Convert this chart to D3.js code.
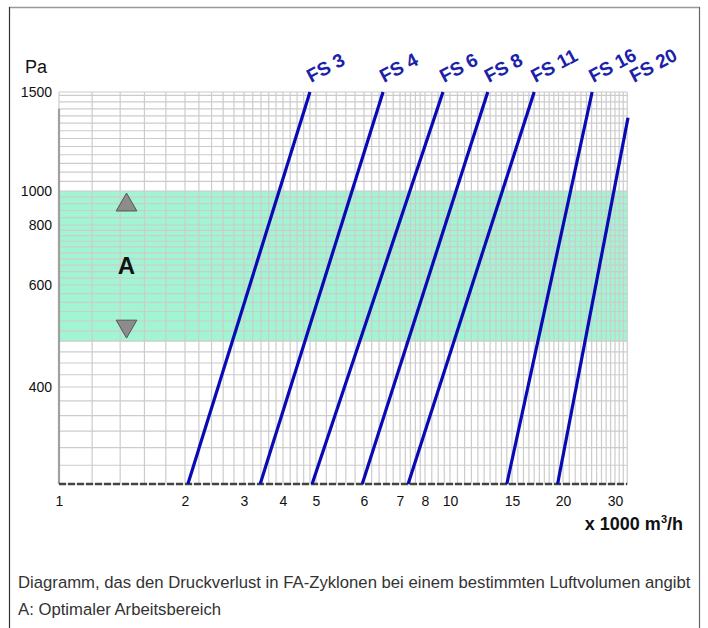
<!DOCTYPE html>
<html>
<head>
<meta charset="utf-8">
<script src="https://cdn.jsdelivr.net/npm/d3@7"></script>
<style>
body { margin: 0; background: #fff; }
text { font-family: "Liberation Sans", Arial, sans-serif; }
</style>
</head>
<body>
<script>
// data
var flowTicks = [1, 2, 3, 4, 5, 6, 7, 8, 10, 15, 20, 30];      // x 1000 m3/h
var pressureTicks = [400, 600, 800, 1000, 1500];                // Pa
var cyclones = ['FS 3', 'FS 4', 'FS 6', 'FS 8', 'FS 11', 'FS 16', 'FS 20'];
var flowStart = [2.04, 3.38, 4.87, 5.96, 7.31, 14.5, 19.4];
var flowEnd = [4.80, 6.51, 9.39, 12.8, 17.0, 25.1, 33.2];
var pressureEnd = [1500, 1500, 1500, 1500, 1500, 1500, 1350];
var pressureStart = 280;
var bandA = [480, 1000];
var flowMin = 1, flowMax = 33;
var pressureMin = 280, pressureMax = 1500;

var w = 708, h = 628;

// the printed axes are not evenly logarithmic, so the scales are piecewise (log within each step)
var flowDomain = flowTicks;
var flowRange = [59, 185, 244, 283, 316, 364, 400, 425, 450, 512, 563, 615];
var pressureDomain = [280, 400, 600, 800, 1000, 1500];
var pressureRange = [484, 387, 285, 225, 191, 92];

var xs = d3.scaleLinear().domain(flowDomain.map(Math.log10)).range(flowRange);
var ys = d3.scaleLinear().domain(pressureDomain.map(Math.log10)).range(pressureRange);
function x(v) { return xs(Math.log10(v)); }
function y(v) { return ys(Math.log10(v)); }

var plotLeft = x(flowMin), plotRight = x(flowMax);
var plotTop = y(pressureMax), plotBottom = y(pressureMin);

var svg = d3.select('body')
	.append('svg')
	.attr('width', w)
	.attr('height', h);

svg.append('rect').attr('width', w).attr('height', h).attr('fill', '#fff');

// frame
svg.append('line').attr('x1', 9).attr('x2', 700).attr('y1', 7.5).attr('y2', 7.5)
	.attr('stroke', '#999').attr('stroke-width', 1.5);
svg.append('line').attr('x1', 9.5).attr('x2', 9.5).attr('y1', 7).attr('y2', h)
	.attr('stroke', '#333').attr('stroke-width', 1.2);
svg.append('line').attr('x1', 699.5).attr('x2', 699.5).attr('y1', 7).attr('y2', h)
	.attr('stroke', '#666').attr('stroke-width', 1.2);

// optimal working range
svg.append('rect')
	.attr('x', plotLeft).attr('width', plotRight - plotLeft)
	.attr('y', y(bandA[1])).attr('height', y(bandA[0]) - y(bandA[1]))
	.attr('fill', '#a2f5d3');

// grid
var gridX = d3.range(1, 8, 0.2)
	.concat(d3.range(8, 20, 0.5))
	.concat(d3.range(20, 34, 1));
var gridY = d3.range(280, 800, 20)
	.concat(d3.range(800, 1000, 40))
	.concat(d3.range(1000, 1501, 40))
	.concat([1500]);

svg.append('g').selectAll('line')
	.data(gridX)
	.enter()
	.append('line')
	.attr('x1', function(d) { return x(d); })
	.attr('x2', function(d) { return x(d); })
	.attr('y1', plotTop)
	.attr('y2', plotBottom)
	.attr('stroke', '#cccccc')
	.attr('stroke-width', 1.2);

svg.append('g').selectAll('line')
	.data(gridY)
	.enter()
	.append('line')
	.attr('x1', plotLeft)
	.attr('x2', plotRight)
	.attr('y1', function(d) { return y(d); })
	.attr('y2', function(d) { return y(d); })
	.attr('stroke', '#cccccc')
	.attr('stroke-width', 1.2);

// axes lines
svg.append('line').attr('x1', plotLeft).attr('x2', plotLeft).attr('y1', y(1400)).attr('y2', plotBottom)
	.attr('stroke', '#a0a0a0').attr('stroke-width', 2.2);
svg.append('line').attr('x1', plotLeft).attr('x2', plotRight).attr('y1', plotBottom).attr('y2', plotBottom)
	.attr('stroke', '#444').attr('stroke-width', 2.4).attr('stroke-dasharray', '7,2');

// tick labels
var yAxis = d3.axisLeft(ys)
	.tickValues(pressureTicks.map(Math.log10))
	.tickFormat(function(d) { return Math.round(Math.pow(10, d)); })
	.tickSize(0)
	.tickPadding(7);
var gy = svg.append('g').attr('transform', 'translate(' + plotLeft + ',0)').call(yAxis);
gy.select('.domain').remove();
gy.selectAll('text').attr('font-size', 14).attr('fill', '#111')
	.style('font-family', '"Liberation Sans", Arial, sans-serif');

var xAxis = d3.axisBottom(xs)
	.tickValues(flowTicks.map(Math.log10))
	.tickFormat(function(d) { return Math.round(Math.pow(10, d)); })
	.tickSize(0)
	.tickPadding(12);
var gx = svg.append('g').attr('transform', 'translate(0,' + plotBottom + ')').call(xAxis);
gx.select('.domain').remove();
gx.selectAll('text').attr('font-size', 14).attr('fill', '#111')
	.style('font-family', '"Liberation Sans", Arial, sans-serif');

svg.append('text').attr('x', 25).attr('y', 73).attr('font-size', 18).attr('fill', '#111').text('Pa');

var xt = svg.append('text').attr('x', 683).attr('y', 530).attr('text-anchor', 'end')
	.attr('font-size', 18).attr('font-weight', 'bold').attr('fill', '#111');
xt.append('tspan').text('x 1000 m');
xt.append('tspan').attr('font-size', 11).attr('dy', -7).text('3');
xt.append('tspan').attr('dy', 7).text('/h');

// A marker
var ax = x(1.45);
var bandTop = y(bandA[1]), bandBot = y(bandA[0]);
var tri = d3.symbol().type(d3.symbolTriangle).size(185);
svg.append('path').attr('d', tri)
	.attr('transform', 'translate(' + ax + ',' + (bandTop + 14) + ')')
	.attr('fill', '#8c8c8c').attr('stroke', '#555').attr('stroke-width', 1);
svg.append('path').attr('d', tri)
	.attr('transform', 'translate(' + ax + ',' + (bandBot - 15) + ') rotate(180)')
	.attr('fill', '#8c8c8c').attr('stroke', '#555').attr('stroke-width', 1);
svg.append('text').attr('x', ax).attr('y', (bandTop + bandBot) / 2 + 8)
	.attr('text-anchor', 'middle').attr('font-size', 24).attr('font-weight', 'bold')
	.attr('fill', '#111').text('A');

// cyclone lines
var lines = cyclones.map(function(name, i) {
	return {
		name: name,
		x0: x(flowStart[i]), y0: y(pressureStart),
		x1: x(flowEnd[i]), y1: y(pressureEnd[i])
	};
});

svg.append('g').selectAll('line')
	.data(lines)
	.enter()
	.append('line')
	.attr('x1', function(d) { return d.x0; })
	.attr('y1', function(d) { return d.y0; })
	.attr('x2', function(d) { return d.x1; })
	.attr('y2', function(d) { return d.y1; })
	.attr('stroke', '#0a0ab4')
	.attr('stroke-width', 3.2);

svg.append('g').selectAll('text')
	.data(lines)
	.enter()
	.append('text')
	.attr('transform', function(d) {
		var lx = d.x0 + (d.x1 - d.x0) * (plotTop - d.y0) / (d.y1 - d.y0);
		return 'translate(' + (lx + 1) + ',' + (plotTop - 9) + ') rotate(-28)';
	})
	.attr('font-size', 19)
	.attr('font-weight', 'bold')
	.attr('fill', '#1a22a8')
	.text(function(d) { return d.name; });

// caption
svg.append('text').attr('x', 18).attr('y', 588).attr('font-size', 16.7).attr('fill', '#333')
	.text('Diagramm, das den Druckverlust in FA-Zyklonen bei einem bestimmten Luftvolumen angibt');
svg.append('text').attr('x', 18).attr('y', 615).attr('font-size', 16.7).attr('fill', '#333')
	.text('A: Optimaler Arbeitsbereich');
</script>
</body>
</html>
